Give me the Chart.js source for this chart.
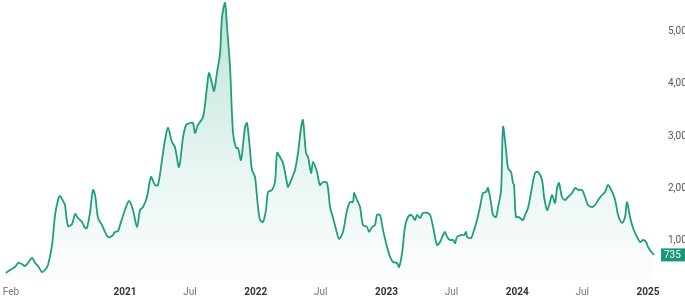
<!DOCTYPE html>
<html>
<head>
<meta charset="utf-8">
<script src="https://cdn.jsdelivr.net/npm/chart.js@4.4.1/dist/chart.umd.min.js"></script>
<style>
  html, body { margin: 0; padding: 0; background: #fff; overflow: hidden; }
  .wrap { width: 720px; height: 302px; }
</style>
</head>
<body>
<div class="wrap"><canvas id="chart" width="720" height="302"></canvas></div>
<script>
// dates as decimal years
const dates = [
  2020.090, 2020.120, 2020.159, 2020.182, 2020.212, 2020.235, 2020.258, 2020.289, 2020.312, 2020.335,
  2020.365, 2020.388, 2020.411, 2020.442, 2020.465, 2020.488, 2020.503, 2020.526, 2020.541, 2020.564,
  2020.595, 2020.618, 2020.641, 2020.671, 2020.694, 2020.709, 2020.732, 2020.755, 2020.771, 2020.794,
  2020.824, 2020.847, 2020.870, 2020.901, 2020.924, 2020.947,
  2020.962, 2021.000, 2021.031, 2021.061, 2021.092, 2021.115, 2021.138, 2021.168, 2021.199, 2021.229,
  2021.252, 2021.283, 2021.306, 2021.329, 2021.359, 2021.382, 2021.413, 2021.444, 2021.467, 2021.497,
  2021.520, 2021.535, 2021.558, 2021.597, 2021.627, 2021.642, 2021.665, 2021.681, 2021.704, 2021.727,
  2021.742, 2021.765, 2021.780, 2021.803, 2021.826, 2021.849, 2021.864,
  2021.887, 2021.918, 2021.933, 2021.956, 2021.971, 2021.994, 2022.017, 2022.033, 2022.055, 2022.078,
  2022.094, 2022.124, 2022.147, 2022.163, 2022.185, 2022.208, 2022.239, 2022.247, 2022.277, 2022.300,
  2022.323, 2022.346, 2022.361, 2022.384, 2022.400, 2022.423, 2022.438, 2022.468, 2022.491, 2022.514,
  2022.545, 2022.568, 2022.591, 2022.621, 2022.637, 2022.667, 2022.698, 2022.721, 2022.744, 2022.751,
  2022.774, 2022.797, 2022.820, 2022.851, 2022.866, 2022.889, 2022.912, 2022.927, 2022.950,
  2022.973, 2023.004, 2023.027, 2023.050, 2023.080, 2023.096, 2023.119, 2023.141, 2023.164, 2023.187,
  2023.203, 2023.218, 2023.233, 2023.256, 2023.279, 2023.310, 2023.333, 2023.356, 2023.386, 2023.409,
  2023.432, 2023.447, 2023.463, 2023.486, 2023.509, 2023.524, 2023.539, 2023.570, 2023.593, 2023.608,
  2023.616, 2023.646, 2023.662, 2023.692, 2023.715, 2023.738, 2023.761, 2023.776, 2023.799, 2023.815,
  2023.837, 2023.853, 2023.876, 2023.891, 2023.914, 2023.929, 2023.952, 2023.967, 2023.975, 2023.990,
  2024.013,
  2024.021, 2024.044, 2024.059, 2024.082, 2024.113, 2024.136, 2024.159, 2024.189, 2024.205, 2024.228,
  2024.250, 2024.266, 2024.289, 2024.304, 2024.319, 2024.342, 2024.365, 2024.388, 2024.419, 2024.442,
  2024.465, 2024.495, 2024.518, 2024.541, 2024.572, 2024.595, 2024.618, 2024.648, 2024.671, 2024.694,
  2024.725, 2024.748, 2024.771, 2024.801, 2024.824, 2024.839, 2024.862, 2024.885, 2024.916, 2024.939,
  2024.962, 2024.985, 2025.000, 2025.031, 2025.046
];

const values = [
  390, 448, 505, 581, 562, 524, 581, 676, 581, 524,
  410, 448, 543, 924, 1495, 1781, 1857, 1762, 1686, 1286,
  1324, 1514, 1438, 1362, 1248, 1248, 1534, 1972, 1876, 1438,
  1305, 1172, 1076, 1095, 1172, 1191,
  1305, 1591, 1762, 1591, 1267, 1591, 1648, 1838, 2219, 2067,
  2067, 2543, 2924, 3153, 2886, 2791, 2410, 2981, 3210, 3248,
  3248, 3058, 3210, 3362, 3934, 4200, 4010, 3858, 4220, 4582,
  5267, 5534, 5077, 4315, 3058, 2772, 2772,
  2543, 3172, 3248, 2734, 2353, 2219, 1648, 1400, 1362, 1591,
  1934, 1972, 2124, 2677, 2600, 2486, 2105, 2029, 2200, 2353,
  2677, 3153, 3305, 2677, 2600, 2296, 2505, 2315, 2067, 2124,
  2105, 1648, 1438, 1153, 1038, 1172, 1591, 1743, 1743, 1915,
  1781, 1648, 1305, 1267, 1172, 1267, 1305, 1495, 1495,
  1210, 886, 695, 600, 581, 505, 772, 1267, 1457, 1495,
  1457, 1400, 1495, 1438, 1534, 1534, 1495, 1267, 924, 981,
  1114, 1172, 1076, 1019, 1019, 962, 1076, 1114, 1114, 1172,
  1076, 1057, 1153, 1400, 1648, 1915, 1934, 2010, 1724, 1495,
  1457, 1648, 1972, 3172, 2734, 2391, 2315, 2105, 2067, 1457,
  1457,
  1438, 1400, 1495, 1629, 2029, 2296, 2315, 2162, 1838, 1591,
  1743, 1876, 1724, 2010, 2105, 1838, 1781, 1838, 1915, 2010,
  1972, 1972, 1838, 1686, 1648, 1686, 1781, 1876, 1934, 2067,
  1934, 1781, 1495, 1343, 1457, 1743, 1457, 1248, 1076, 981,
  1019, 981, 886, 772, 735
];

const xTicks = [2020.128, 2021, 2021.496, 2022, 2022.496, 2023, 2023.496, 2024, 2024.496, 2025];
const xLabels = ["Feb", "2021", "Jul", "2022", "Jul", "2023", "Jul", "2024", "Jul", "2025"];
const yTicks = [1000, 2000, 3000, 4000, 5000];

const lineColor = "#1f9e7f";

// last price tag on the right axis
const lastTag = {
  id: "lastTag",
  afterDraw(chart) {
    const { ctx, chartArea, scales } = chart;
    const last = values[values.length - 1];
    const y = scales.y.getPixelForValue(last);
    const x = chartArea.right + 3;
    ctx.save();
    ctx.fillStyle = "#17967a";
    ctx.fillRect(x, y - 6.5, 40, 13);
    ctx.fillStyle = "#ffffff";
    ctx.font = "10px Roboto";
    ctx.textBaseline = "middle";
    ctx.textAlign = "left";
    ctx.fillText(String(last), x + 3, y + 0.5);
    ctx.restore();
  },
};

const isYear = (i) => /^\d{4}$/.test(xLabels[i] || "");

new Chart(document.getElementById("chart"), {
  type: "line",
  data: {
    datasets: [
      {
        data: dates.map((d, i) => ({ x: d, y: values[i] })),
        borderColor: lineColor,
        borderWidth: 1.8,
        pointRadius: 0,
        tension: 0.3,
        fill: "start",
        clip: false,
        backgroundColor: (ctx) => {
          const area = ctx.chart.chartArea;
          if (!area) return "rgba(31,158,127,0.1)";
          const g = ctx.chart.ctx.createLinearGradient(0, area.top, 0, area.bottom);
          g.addColorStop(0, "rgba(31,158,127,0.30)");
          g.addColorStop(0.6, "rgba(31,158,127,0.10)");
          g.addColorStop(1, "rgba(31,158,127,0.01)");
          return g;
        },
      },
    ],
  },
  options: {
    responsive: false,
    animation: false,
    layout: { padding: 0 },
    plugins: { legend: { display: false }, tooltip: { enabled: false } },
    scales: {
      x: {
        type: "linear",
        min: 2020.044,
        max: 2025.076,
        grid: { display: false, drawTicks: false },
        border: { display: false },
        afterBuildTicks: (scale) => {
          scale.ticks = xTicks.map((v) => ({ value: v }));
        },
        afterFit: (scale) => {
          scale.height = 22;
          scale.paddingLeft = 0;
          scale.paddingRight = 0;
        },
        ticks: {
          autoSkip: false,
          maxRotation: 0,
          padding: 6,
          callback: (v, i) => xLabels[i],
          font: (ctx) => ({
            family: "Roboto",
            size: 10,
            weight: isYear(ctx.index) ? "bold" : "normal",
          }),
          color: (ctx) => (isYear(ctx.index) ? "#333" : "#777"),
        },
      },
      y: {
        position: "right",
        min: 257,
        max: 5591,
        grid: { display: false, drawTicks: false },
        border: { display: false },
        afterBuildTicks: (scale) => {
          scale.ticks = yTicks.map((v) => ({ value: v }));
        },
        afterFit: (scale) => {
          scale.width = 62;
          scale.paddingTop = 0;
          scale.paddingBottom = 0;
        },
        ticks: {
          padding: 10,
          color: "#555",
          font: { family: "Roboto", size: 10 },
          callback: (v) => v.toLocaleString("en-US"),
        },
      },
    },
  },
  plugins: [lastTag],
});
</script>
</body>
</html>
